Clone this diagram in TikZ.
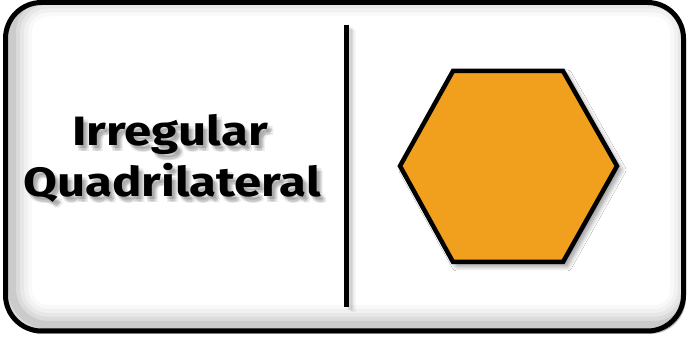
\documentclass[tikz,border=0pt]{standalone}
\usepackage{fontspec}
\setmainfont{Fira Sans}[FakeStretch=1.2]
\usetikzlibrary{shadows.blur}
\definecolor{hexorange}{RGB}{241,160,30}
\tikzset{
  framepath/.style={rounded corners=36pt},
  labeltext/.style={font=\fontsize{41}{48}\selectfont\bfseries, anchor=base, inner sep=0pt},
  shadowtext/.style={labeltext, text=black, opacity=0.08},
  hexshape/.style={fill=hexorange, draw=black, line width=4.5pt, line join=miter,
    blur shadow={shadow xshift=4pt, shadow yshift=-4pt, shadow blur steps=12, shadow blur radius=5pt, shadow opacity=45}},
  divider/.style={line width=5pt, black},
}
\begin{document}
\begin{tikzpicture}[x=1pt,y=1pt]
\useasboundingbox (0,0) rectangle (689,345);
% frame shadow
\fill[black, opacity=0.25, framepath] (7,11) rectangle (686,340);
\fill[white, framepath] (5.5,14) rectangle (683.5,342.5);
% inner shadow
\begin{scope}
  \clip[framepath] (5.5,14) rectangle (683.5,342.5);
  \foreach \w/\o in {40/0.025, 32/0.03, 24/0.04, 16/0.05, 8/0.07}
    \draw[line width=\w pt, black, opacity=\o, framepath] (12,20) rectangle (690,348.5);
\end{scope}
\draw[line width=5pt, black, framepath] (5.5,14) rectangle (683.5,342.5);
% divider
\foreach \dx/\dy/\o in {3/-3/0.06, 5/-4/0.05, 7/-5/0.04, 4/-2/0.05}
  \draw[line width=5pt, black, opacity=\o] (346.5+\dx,320+\dy) -- (346.5+\dx,38+\dy);
\coordinate (dtop) at (346.5,320);
\coordinate (dbot) at (346.5,38);
\draw[divider] (dtop) -- (dbot);
% text shadows
\foreach \dx/\dy [count=\i] in {2/-3, 4/-5, 6/-6, 3/-6, 5/-3}{
  \node[shadowtext] (sa\i) at (170+\dx,199+\dy) {Irregular};
  \node[shadowtext] (sb\i) at (172+\dx,148+\dy) {Quadrilateral};
}
\node[labeltext] (t1) at (170,199) {Irregular};
\node[labeltext] (t2) at (172,148) {Quadrilateral};
% hexagon
\coordinate (h1) at (453,274);
\coordinate (h2) at (563,274);
\coordinate (h3) at (617,179);
\coordinate (h4) at (563,83);
\coordinate (h5) at (453,83);
\coordinate (h6) at (400,179);
\path[hexshape] (h1) -- (h2) -- (h3) -- (h4) -- (h5) -- (h6) -- cycle;
\end{tikzpicture}
\end{document}
